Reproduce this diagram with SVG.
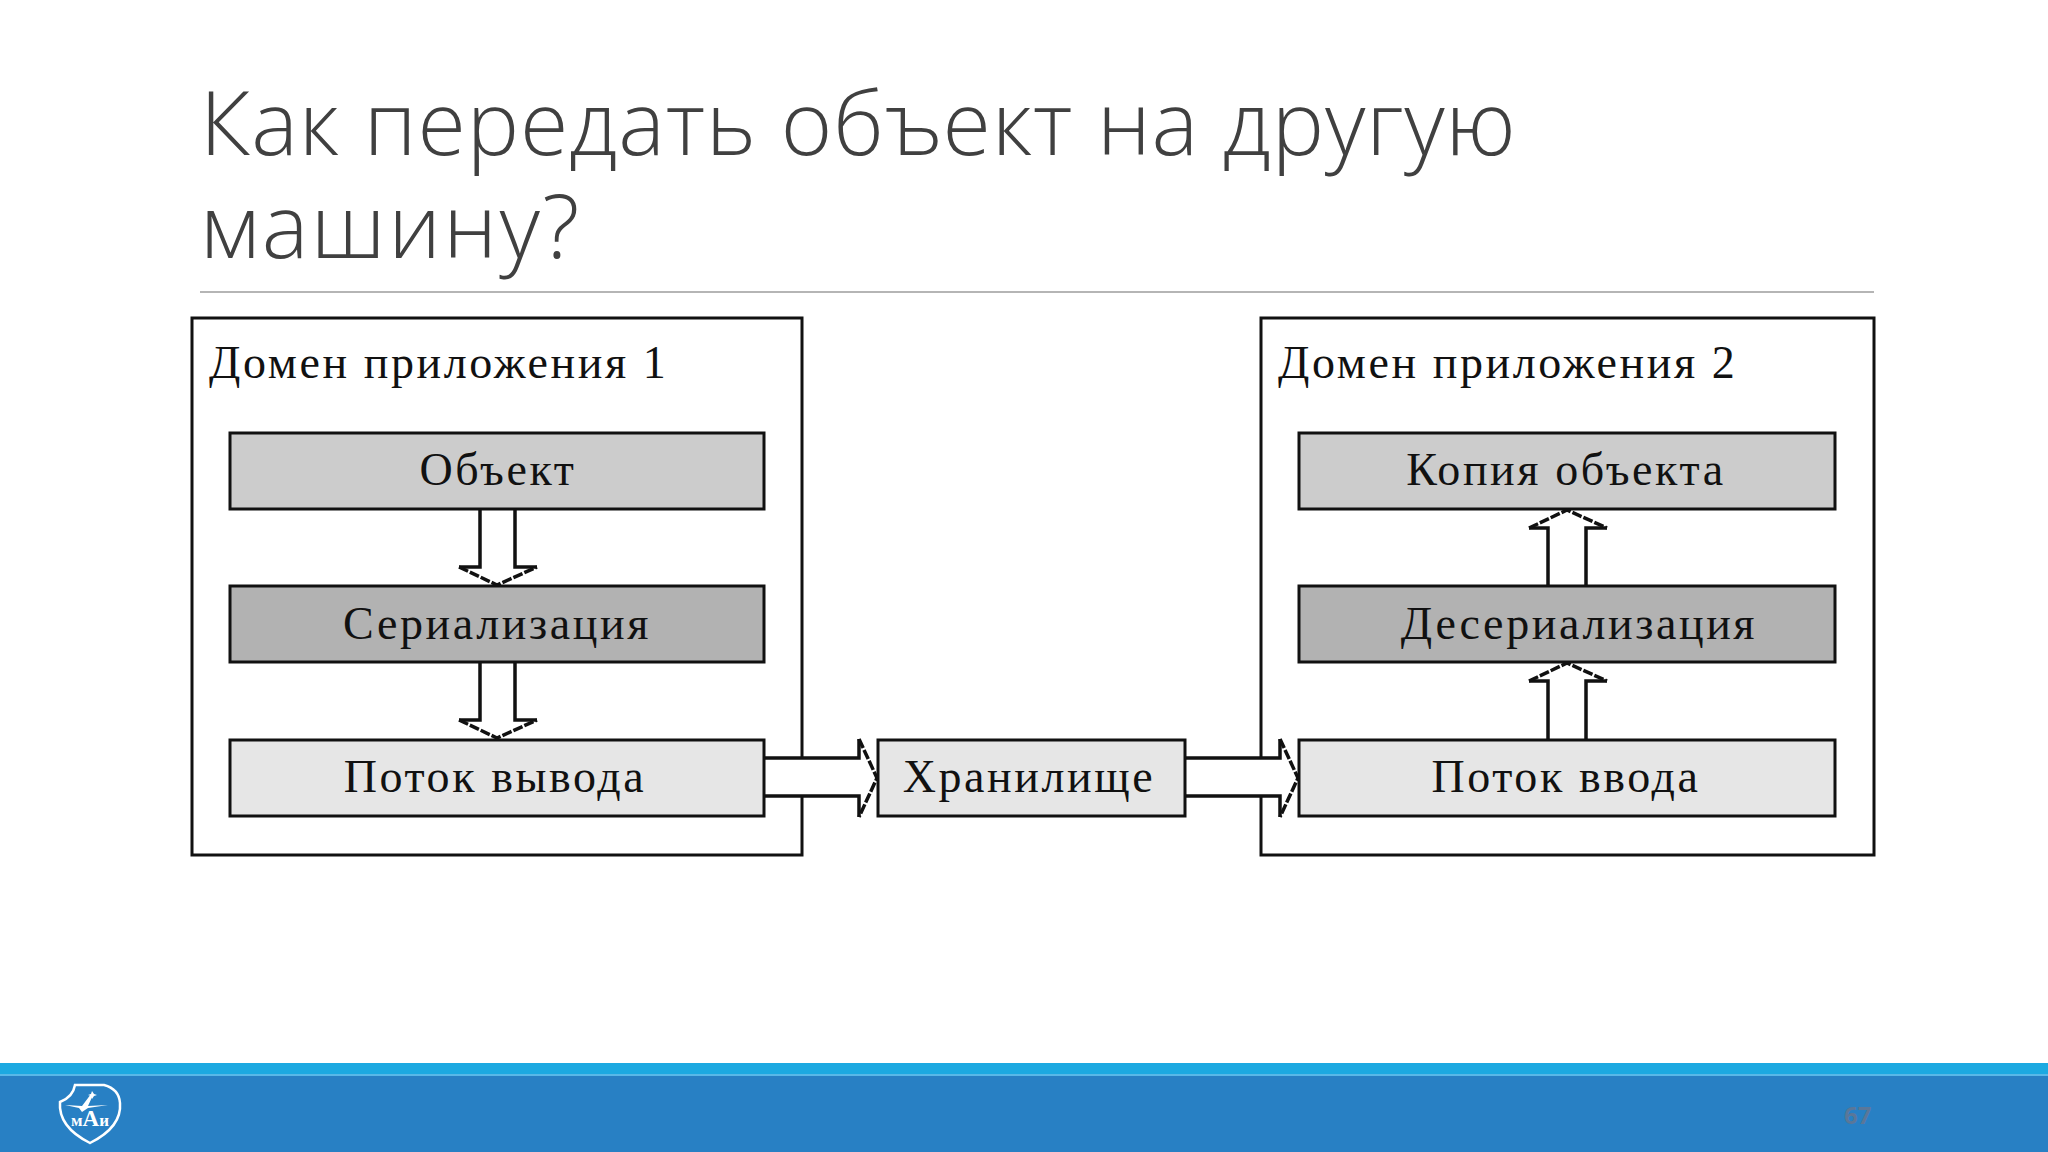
<svg xmlns="http://www.w3.org/2000/svg" width="2048" height="1152" viewBox="0 0 2048 1152">
<style>
.title{font-family:"Open Sans","Noto Sans",sans-serif;font-weight:300;font-size:88px;fill:#404040}
.lbl{font-family:"Liberation Serif","Times New Roman",serif;font-size:46px;fill:#111;letter-spacing:2.6px}
.mid{text-anchor:middle}
.frame{fill:#fff;stroke:#111;stroke-width:3}
.box{stroke:#111;stroke-width:3}
.a{fill:#ccc}.b{fill:#b2b2b2}.c{fill:#e6e6e6}
.fill{fill:#fff;stroke:none}
.solid{fill:none;stroke:#111;stroke-width:3.5}
.dash{fill:none;stroke:#111;stroke-width:3.5;stroke-dasharray:10 2}
</style>
<rect width="2048" height="1152" fill="#fff"/>
<g id="title">
<text class="title"><tspan x="200" y="155" letter-spacing="0.9">Как передать объект на другую</tspan><tspan x="200" y="258" letter-spacing="2.4">машину?</tspan></text>
<rect x="200" y="291" width="1674" height="2" fill="#b5b5b5"/>
</g>
<g id="domain1"><rect class="frame" x="192" y="318" width="610" height="537"/><text class="lbl" x="209" y="378" letter-spacing="2.2">Домен приложения 1</text></g>
<g id="domain2"><rect class="frame" x="1261" y="318" width="613" height="537"/><text class="lbl" x="1278" y="378" letter-spacing="2.5">Домен приложения 2</text></g>
<g id="connectors">
<g id="arrow-down-1"><path class="fill" d="M480 509H515V567H537L497 585L459 567H480Z"/><path class="solid" d="M480 509V567H459M515 509V567H537"/><path class="dash" d="M459 567L497 585L537 567"/></g>
<g id="arrow-down-2"><path class="fill" d="M480 662H515V720H537L497 738L459 720H480Z"/><path class="solid" d="M480 662V720H459M515 662V720H537"/><path class="dash" d="M459 720L497 738L537 720"/></g>
<g id="arrow-up-1"><path class="fill" d="M1548 585H1586V528H1607L1567 510L1529 528H1548Z"/><path class="solid" d="M1548 585V528H1529M1586 585V528H1607"/><path class="dash" d="M1529 528L1567 510L1607 528"/></g>
<g id="arrow-up-2"><path class="fill" d="M1548 739H1586V681H1607L1567 663L1529 681H1548Z"/><path class="solid" d="M1548 739V681H1529M1586 739V681H1607"/><path class="dash" d="M1529 681L1567 663L1607 681"/></g>
<g id="arrow-right-1"><path class="fill" d="M764 758H859V739L877 778L859 817V796H764Z"/><path class="solid" d="M764 758H859V739M764 796H859V817"/><path class="dash" d="M859 739L877 778L859 817"/></g>
<g id="arrow-right-2"><path class="fill" d="M1185 758H1280V739L1298 778L1280 817V796H1185Z"/><path class="solid" d="M1185 758H1280V739M1185 796H1280V817"/><path class="dash" d="M1280 739L1298 778L1280 817"/></g>
</g>
<g id="object"><rect class="box a" x="230" y="433" width="534" height="76"/><text class="lbl mid" x="498" y="485">Объект</text></g>
<g id="serialization"><rect class="box b" x="230" y="586" width="534" height="76"/><text class="lbl mid" x="497" y="639">Сериализация</text></g>
<g id="output-stream"><rect class="box c" x="230" y="740" width="534" height="76"/><text class="lbl mid" x="495" y="792">Поток вывода</text></g>
<g id="storage"><rect class="box c" x="878" y="740" width="307" height="76"/><text class="lbl mid" x="1029" y="792" letter-spacing="3.2">Хранилище</text></g>
<g id="object-copy"><rect class="box a" x="1299" y="433" width="536" height="76"/><text class="lbl mid" x="1566" y="485">Копия объекта</text></g>
<g id="deserialization"><rect class="box b" x="1299" y="586" width="536" height="76"/><text class="lbl mid" x="1579" y="639">Десериализация</text></g>
<g id="input-stream"><rect class="box c" x="1299" y="740" width="536" height="76"/><text class="lbl mid" x="1566" y="792">Поток ввода</text></g>
<g id="footer">
<rect y="1063" width="2048" height="12" fill="#1ca9e1"/>
<rect y="1075" width="2048" height="77" fill="#2880c4"/>
<rect y="1074" width="2048" height="2" fill="#58b8e8"/>
<text x="1844" y="1124" font-family="'Open Sans',sans-serif" font-weight="700" font-size="24" fill="#5a7799">67</text>
</g>
<g id="logo">
<path d="M75 1085H104Q119 1089 120 1103Q122 1127 90 1143Q58 1127 60 1102Q73 1097 75 1085Z" fill="none" stroke="#fff" stroke-width="2.5"/>
<path d="M65 1105L82 1106L91 1094L93 1095L88 1106L108 1105L88 1108L82 1112L79 1108Z" fill="#fff"/>
<path d="M92 1091L94 1094L97 1095L94 1096L92 1099L91 1096L88 1095L91 1094Z" fill="#fff"/>
<text x="90" y="1126" text-anchor="middle" font-family="'Liberation Serif',serif" font-weight="700" font-size="17" fill="#fff">м<tspan font-size="23">А</tspan>и</text>
</g>
</svg>
